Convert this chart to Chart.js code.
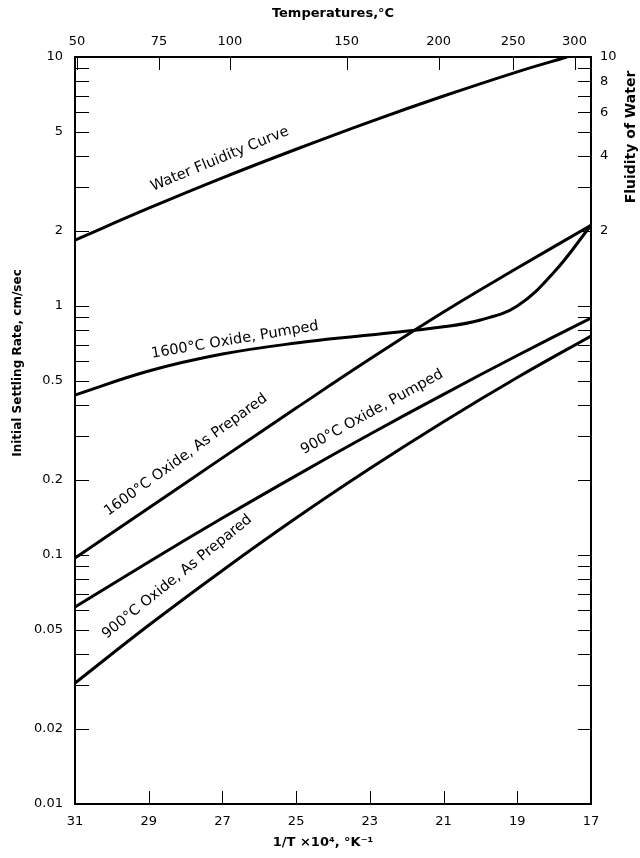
<!DOCTYPE html>
<html><head><meta charset="utf-8">
<script src="https://cdn.jsdelivr.net/npm/chart.js@4.4.1/dist/chart.umd.min.js"></script>
<style>html,body{margin:0;padding:0;background:#fff}canvas{display:block}</style>
</head><body>
<canvas id="c" width="640" height="858"></canvas>
<script>
// ---- data ----
const xTickValues = [31, 29, 27, 25, 23, 21, 19, 17];          // 1/T x 10^4, K^-1
const tempTicksC = [50, 75, 100, 150, 200, 250, 300];          // top axis, deg C
const yTickLabels = [0.01, 0.02, 0.05, 0.1, 0.2, 0.5, 1, 2, 5, 10];
const fluidityTickLabels = [2, 4, 6, 8, 10];

const waterInvT = [31, 29, 27, 25, 23, 21, 19, 17.65];
const waterRate = [1.84, 2.47, 3.27, 4.26, 5.49, 6.97, 8.72, 10];

const pumped1600InvT = [31, 29, 27, 25, 23, 21, 20, 19, 18, 17];
const pumped1600Rate = [0.439, 0.548, 0.641, 0.710, 0.765, 0.825, 0.879, 1.0, 1.369, 2.11];

const prepared1600InvT = [31, 29, 27, 25, 23, 21, 19, 17];
const prepared1600Rate = [0.0973, 0.1545, 0.2455, 0.389, 0.612, 0.946, 1.42, 2.11];

const pumped900InvT = [31, 29, 27, 25, 23, 21, 19, 17];
const pumped900Rate = [0.0618, 0.0938, 0.1407, 0.2084, 0.3053, 0.4418, 0.6326, 0.895];

const prepared900InvT = [31, 29, 27, 25, 23, 21, 19, 17];
const prepared900Rate = [0.0306, 0.0522, 0.0867, 0.1407, 0.2223, 0.3429, 0.5163, 0.758];

const seriesNames = ['Water Fluidity Curve', '1600°C Oxide, Pumped', '1600°C Oxide, As Prepared',
                     '900°C Oxide, Pumped', '900°C Oxide, As Prepared'];

// ---- annotation placement (label centres in data units, rotation in degrees) ----
const curveLabels = [
  {text: seriesNames[0], v: 27.07, r: 3.89, angle: -22.5},
  {text: seriesNames[1], v: 26.66, r: 0.730, angle: -9.5},
  {text: seriesNames[2], v: 27.99, r: 0.252, angle: -36},
  {text: seriesNames[3], v: 22.94, r: 0.375, angle: -29},
  {text: seriesNames[4], v: 28.23, r: 0.0816, angle: -39}
];

const FONT = '"DejaVu Sans", sans-serif';
const pts = (xs, ys) => xs.map((x, i) => ({x: x, y: ys[i]}));
const mk = (label, xs, ys) => ({
  label: label, data: pts(xs, ys), borderColor: '#000', borderWidth: 3,
  pointRadius: 0, fill: false, tension: 0.4,
  xAxisID: 'x', yAxisID: 'y'
});

const decorPlugin = {
  id: 'decor',
  afterDraw(chart) {
    const ctx = chart.ctx, a = chart.chartArea;
    const sx = chart.scales.x, sy = chart.scales.y;
    ctx.save();
    ctx.strokeStyle = '#000';
    ctx.lineWidth = 1;
    // inward minor/major ticks on left & right
    const logTicks = [];
    for (let e = -2; e <= 0; e++) for (let m = 1; m <= 9; m++) logTicks.push(m * Math.pow(10, e));
    logTicks.push(10);
    ctx.beginPath();
    logTicks.forEach(v => {
      const py = Math.round(sy.getPixelForValue(v)) + 0.5;
      ctx.moveTo(a.left, py); ctx.lineTo(a.left + 14, py);
      ctx.moveTo(a.right - 13, py); ctx.lineTo(a.right, py);
    });
    xTickValues.forEach(v => {
      const px = Math.round(sx.getPixelForValue(v)) + 0.5;
      ctx.moveTo(px, a.bottom); ctx.lineTo(px, a.bottom - 13);
    });
    tempTicksC.forEach(c => {
      const px = Math.round(sx.getPixelForValue(1e4 / (c + 273.15))) + 0.5;
      ctx.moveTo(px, a.top); ctx.lineTo(px, a.top + 13);
    });
    ctx.stroke();

    // axis titles
    ctx.fillStyle = '#000';
    ctx.textAlign = 'center';
    ctx.textBaseline = 'middle';
    ctx.font = 'bold 13px ' + FONT;
    const cx = (a.left + a.right) / 2;
    ctx.fillText('Temperatures,°C', cx, 14);
    ctx.fillText('1/T ×10⁴, °K⁻¹', cx - 10, 843);
    ctx.save();
    ctx.translate(18, 363);
    ctx.rotate(-Math.PI / 2);
    ctx.font = 'bold 12px ' + FONT;
    ctx.fillText('Initial Settling Rate, cm/sec', 0, 0);
    ctx.restore();
    ctx.save();
    ctx.translate(631, 137);
    ctx.rotate(-Math.PI / 2);
    ctx.font = 'bold 14px ' + FONT;
    ctx.fillText('Fluidity of Water', 0, 0);
    ctx.restore();

    // curve labels
    ctx.font = '14.5px ' + FONT;
    curveLabels.forEach(l => {
      const px = sx.getPixelForValue(l.v), py = sy.getPixelForValue(l.r);
      ctx.save();
      ctx.translate(px, py);
      ctx.rotate(l.angle * Math.PI / 180);
      ctx.fillText(l.text, 0, 0);
      ctx.restore();
    });
    ctx.restore();
  }
};

const tickFont = {family: FONT, size: 13};
const noGrid = {display: false, drawTicks: false, tickLength: 0};
const border = {display: true, color: '#000', width: 2};

new Chart(document.getElementById('c'), {
  type: 'line',
  data: {
    datasets: [
      mk(seriesNames[0], waterInvT, waterRate),
      mk(seriesNames[1], pumped1600InvT, pumped1600Rate),
      mk(seriesNames[2], prepared1600InvT, prepared1600Rate),
      mk(seriesNames[3], pumped900InvT, pumped900Rate),
      mk(seriesNames[4], prepared900InvT, prepared900Rate)
    ]
  },
  options: {
    responsive: false, animation: false, devicePixelRatio: 1,
    layout: {padding: 0},
    plugins: {legend: {display: false}, tooltip: {enabled: false}},
    scales: {
      x: {
        type: 'linear', position: 'bottom', reverse: true, min: 17, max: 31,
        grid: noGrid, border: border,
        ticks: {color: '#000', font: tickFont, padding: 10, autoSkip: false, maxRotation: 0,
                callback: v => String(v)},
        afterBuildTicks: s => { s.ticks = xTickValues.map(v => ({value: v})); },
        afterFit: s => { s.height = 54; }
      },
      xTop: {
        type: 'linear', position: 'top', reverse: true, min: 17, max: 31,
        grid: noGrid, border: border,
        ticks: {color: '#000', font: tickFont, padding: 8, autoSkip: false, maxRotation: 0,
                callback: (v, i) => String(tempTicksC[i])},
        afterBuildTicks: s => { s.ticks = tempTicksC.map(c => ({value: 1e4 / (c + 273.15)})); },
        afterFit: s => { s.height = 57; }
      },
      y: {
        type: 'logarithmic', position: 'left', min: 0.01, max: 10,
        grid: noGrid, border: border,
        ticks: {color: '#000', font: tickFont, padding: 12, autoSkip: false,
                callback: v => String(v)},
        afterBuildTicks: s => { s.ticks = yTickLabels.map(v => ({value: v})); },
        afterFit: s => { s.width = 75; }
      },
      y2: {
        type: 'logarithmic', position: 'right', min: 0.01, max: 10,
        grid: noGrid, border: border,
        ticks: {color: '#000', font: tickFont, padding: 9, autoSkip: false,
                callback: v => String(v)},
        afterBuildTicks: s => { s.ticks = fluidityTickLabels.map(v => ({value: v})); },
        afterFit: s => { s.width = 49; }
      }
    }
  },
  plugins: [decorPlugin]
});
</script>
</body></html>
